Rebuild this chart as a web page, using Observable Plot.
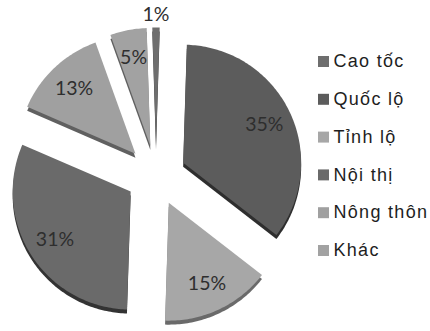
<!DOCTYPE html>
<html><head><meta charset="utf-8">
<script src="https://cdn.jsdelivr.net/npm/d3@7"></script>
<script src="https://cdn.jsdelivr.net/npm/@observablehq/plot@0.6"></script>
<style>
body{margin:0;background:#fff;}
</style></head><body><div id="chart"></div>
<script>
const categories = ["Cao tốc","Quốc lộ","Tỉnh lộ","Nội thị","Nông thôn","Khác"];
const values = [1,35,15,31,13,5];
const labels = ["1%","35%","15%","31%","13%","5%"];
const faceColors = ["#6e6e6e","#5c5c5c","#a7a7a7","#6a6a6a","#a0a0a0","#a2a2a2"];
const sideColors = ["#3a3a3a","#2e2e2e","#6a6a6a","#333333","#606060","#606060"];

const cx=155.5, cy=175, R=118, explode=30, depth=4;
const startAngle = -Math.PI*values[0]/100;
const arcs = d3.pie().sort(null).value(d=>d).startAngle(startAngle).endAngle(startAngle+2*Math.PI)(values);
const pts=[]; const labelRows=[];
arcs.forEach((a,i)=>{
  const mid=(a.startAngle+a.endAngle)/2;
  const ox=cx+explode*Math.sin(mid), oy=cy-explode*Math.cos(mid);
  pts.push({k:i,x:ox,y:oy});
  const n=Math.max(2,Math.ceil((a.endAngle-a.startAngle)*180/Math.PI));
  for(let j=0;j<=n;j++){const t=a.startAngle+(a.endAngle-a.startAngle)*j/n; pts.push({k:i,x:ox+R*Math.sin(t),y:oy-R*Math.cos(t)});}
  pts.push({k:i,x:ox,y:oy});
  const lr = values[i]<3 ? R+13 : R*0.76;
  labelRows.push({x:ox+lr*Math.sin(mid), y:oy-lr*Math.cos(mid), text:labels[i]});
});
const legendX=323, legendTextX=333, legendY0=61, legendStep=37.8;

const chart = Plot.plot({
  width:430, height:331, margin:0,
  x:{domain:[0,430], range:[0,430], axis:null},
  y:{domain:[0,331], range:[0,331], axis:null},
  color:{type:"identity"},
  style:{background:"#fff"},
  marks:[
    Plot.line(pts,{x:"x",y:"y",z:"k",fill:d=>sideColors[d.k],stroke:"none",dy:depth}),
    Plot.line(pts,{x:"x",y:"y",z:"k",fill:d=>faceColors[d.k],stroke:"none"}),
    Plot.text(labelRows,{x:"x",y:"y",text:"text",fontSize:19.5,fontFamily:"Lato",fill:"#2e2e2e"}),
    Plot.dot(categories,{x:()=>legendX,y:(d,i)=>legendY0+legendStep*i,symbol:"square",r:6.2,fill:(d,i)=>faceColors[i]}),
    Plot.text(categories,{x:()=>legendTextX,y:(d,i)=>legendY0+legendStep*i,text:d=>d,textAnchor:"start",fontSize:18,fontFamily:"Liberation Sans",fill:"#1e1e1e"})
  ]
});
d3.select(chart).selectAll("text").filter(function(){return categories.includes(this.textContent);}).style("letter-spacing","1.3px");
document.getElementById("chart").appendChild(chart);
</script></body></html>
